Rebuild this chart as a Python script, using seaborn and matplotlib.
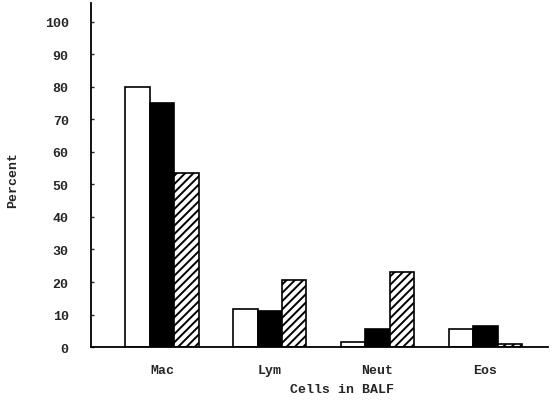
import matplotlib
matplotlib.use("Agg")
import matplotlib.pyplot as plt
import seaborn as sns
import pandas as pd

categories = ["Mac", "Lym", "Neut", "Eos"]
groups = ["A", "B", "C"]
values_a = [80.0, 11.7, 1.5, 5.5]
values_b = [75.0, 11.0, 5.5, 6.5]
values_c = [53.5, 20.5, 23.0, 1.0]
yticks = [0, 10, 20, 30, 40, 50, 60, 70, 80, 90, 100]

rows = []
for g, vals in zip(groups, [values_a, values_b, values_c]):
    for c, v in zip(categories, vals):
        rows.append({"cell": c, "group": g, "value": v})
df = pd.DataFrame(rows)

sns.set_style("white")
plt.rcParams["font.family"] = ["Liberation Mono", "DejaVu Sans"]
plt.rcParams["font.weight"] = "bold"
plt.rcParams["hatch.linewidth"] = 1.4

fig = plt.figure(figsize=(5.54, 4.02), dpi=100)
ax = fig.add_axes([0.164, 0.134, 0.825, 0.856])

sns.barplot(data=df, x="cell", y="value", hue="group", order=categories,
            hue_order=groups, palette=["white", "black", "white"],
            width=0.68, edgecolor="black", linewidth=1.2, legend=False,
            ax=ax, errorbar=None)

n = len(categories)
for i, patch in enumerate(ax.patches):
    if i >= 2 * n:
        patch.set_hatch("////")

ax.set_xlim(-0.66, 3.58)
ax.set_ylim(0, 105.7)
ax.set_yticks(yticks)
ax.set_yticklabels([str(t) for t in yticks], fontsize=9.5, fontweight="bold")
ax.tick_params(axis="y", direction="in", length=2, width=1, pad=16, left=True)
ax.tick_params(axis="x", length=0, pad=12, labelsize=9.5)
for lab in ax.get_xticklabels():
    lab.set_fontweight("bold")

for s in ["top", "right"]:
    ax.spines[s].set_visible(False)
for s in ["left", "bottom"]:
    ax.spines[s].set_color("black")
    ax.spines[s].set_linewidth(1.3)

ax.set_xlabel("Cells in BALF", fontsize=9.5, fontweight="bold")
ax.xaxis.set_label_coords(0.55, -0.105)
ax.set_ylabel("Percent", fontsize=9.5, fontweight="bold")
ax.yaxis.set_label_coords(-0.158, 0.49)

fig.savefig("out.png", dpi=100)
